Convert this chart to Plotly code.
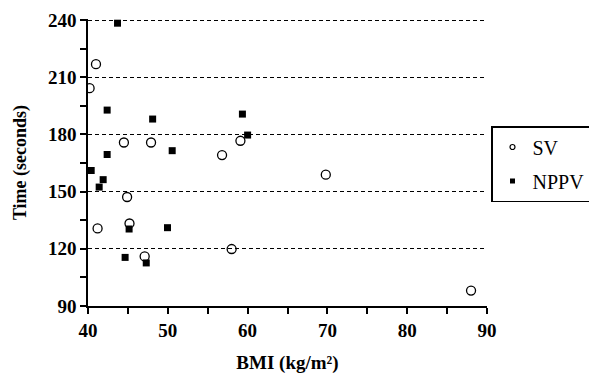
import plotly.graph_objects as go

sv_bmi = [41.0, 40.2, 44.5, 47.9, 56.8, 59.1, 69.8, 44.9, 41.2, 45.2, 47.1, 58.0, 88.0]
sv_time = [216.9, 204.3, 175.8, 175.8, 169.2, 176.7, 158.9, 147.2, 130.7, 133.3, 116.0, 119.9, 98.1]

nppv_bmi = [43.7, 42.4, 48.1, 59.35, 60.0, 42.4, 50.55, 40.4, 41.9, 41.4, 45.15, 49.96, 44.65, 47.3]
nppv_time = [238.4, 192.8, 188.1, 190.7, 179.7, 169.5, 171.5, 161.1, 156.3, 152.4, 130.4, 131.1, 115.5, 112.6]

x_ticks = [40, 50, 60, 70, 80, 90]
y_ticks = [90, 120, 150, 180, 210, 240]

FONT = "Liberation Serif"

fig = go.Figure()
# data traces
fig.add_trace(go.Scatter(
    x=sv_bmi, y=sv_time, mode="markers", name="SV", showlegend=False,
    marker=dict(symbol="circle-open", size=9, color="black", line=dict(width=1.3)),
))
fig.add_trace(go.Scatter(
    x=nppv_bmi, y=nppv_time, mode="markers", name="NPPV", showlegend=False,
    marker=dict(symbol="square", size=7, color="black"),
))
# legend entries (small keys as in the reference)
fig.add_trace(go.Scatter(
    x=[None], y=[None], mode="markers", name="SV", legendgroup="a",
    marker=dict(symbol="circle-open", size=5, color="black", line=dict(width=1.2)),
))
fig.add_trace(go.Scatter(
    x=[None], y=[None], mode="markers", name="NPPV", legendgroup="b",
    marker=dict(symbol="square", size=5, color="black"),
))

fig.update_layout(
    width=589, height=383,
    margin=dict(l=88, r=102, t=19, b=77, autoexpand=False),
    paper_bgcolor="white", plot_bgcolor="white",
    font=dict(family=FONT, color="black", size=19),
    showlegend=True,
    legend=dict(
        xref="container", yref="container",
        x=491 / 589, y=1 - 126 / 383, xanchor="left", yanchor="top",
        bordercolor="black", borderwidth=1.5, bgcolor="white",
        font=dict(family=FONT, size=20, color="black"),
        itemwidth=30, tracegroupgap=5,
    ),
    xaxis=dict(
        range=[40, 90], tickvals=x_ticks, ticktext=["<b>%d</b>" % v for v in x_ticks],
        showgrid=False, zeroline=False, automargin=False,
        showline=True, linecolor="black", linewidth=1.5,
        ticks="outside", ticklen=6, tickwidth=1.5, tickcolor="black",
        minor=dict(dtick=5, ticks="outside", ticklen=6, tickwidth=1.5, tickcolor="black", showgrid=False),
        tickfont=dict(family=FONT, size=19),
        title=dict(text="<b>BMI (kg/m²)</b>", font=dict(family=FONT, size=19), standoff=16),
    ),
    yaxis=dict(
        range=[90, 240.6], tickvals=y_ticks, ticktext=["<b>%d</b>" % v for v in y_ticks],
        showgrid=True, gridcolor="black", gridwidth=1.3, griddash="4px,3px",
        zeroline=False, automargin=False,
        showline=True, linecolor="black", linewidth=1.5,
        ticks="outside", ticklen=6, tickwidth=1.5, tickcolor="black",
        minor=dict(dtick=15, ticks="outside", ticklen=6, tickwidth=1.5, tickcolor="black", showgrid=False),
        tickfont=dict(family=FONT, size=19),
        title=dict(text="<b>Time (seconds)</b>", font=dict(family=FONT, size=18), standoff=17),
    ),
)

fig.write_html("out.html", config={"displayModeBar": False},
               post_script="document.body.style.margin='0';")
